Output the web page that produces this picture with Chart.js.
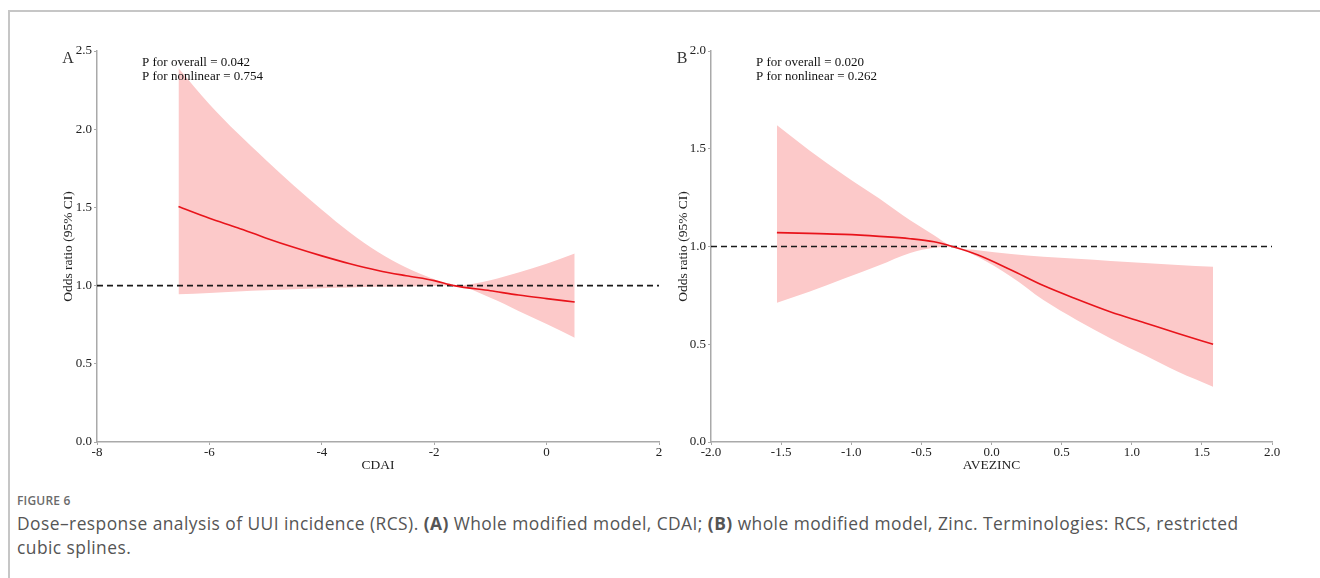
<!DOCTYPE html>
<html>
<head>
<meta charset="utf-8">
<script src="https://cdn.jsdelivr.net/npm/chart.js@4.4.1/dist/chart.umd.min.js"></script>
<style>
  html, body { margin: 0; padding: 0; background: #fff; }
  body { width: 1320px; height: 578px; position: relative; overflow: hidden; }
  .frame { position: absolute; left: 8px; top: 10px; right: -4px; bottom: -4px; border-top: 2px solid #c6c6c6; border-left: 2px solid #c6c6c6; }
  .wrap { position: absolute; top: 0; width: 680px; height: 480px; }
  #wa { left: 0; }
  #wb { left: 640px; }
  .cap1 { position: absolute; left: 17px; top: 492px; font-family: "Open Sans", "Noto Sans", sans-serif; font-size: 12px; font-weight: 600; color: #6b6b6b; letter-spacing: 0.2px; }
  .cap2 { position: absolute; left: 17px; top: 511px; width: 1295px; white-space: nowrap; font-family: "Open Sans", "Noto Sans", sans-serif; font-size: 17.4px; letter-spacing: 0.45px; line-height: 24px; color: #555; }
  .cap2 b { font-weight: 700; color: #555; }
</style>
</head>
<body>
<div class="frame"></div>
<div class="wrap" id="wa"><canvas id="ca" width="680" height="480"></canvas></div>
<div class="wrap" id="wb"><canvas id="cb" width="680" height="480"></canvas></div>
<div class="cap1">FIGURE 6</div>
<div class="cap2">Dose–response analysis of UUI incidence (RCS). <b>(A)</b> Whole modified model, CDAI; <b>(B)</b> whole modified model, Zinc. Terminologies: RCS, restricted<br>cubic splines.</div>
<script>
// ---- Panel A: CDAI ----
const cdaiX     = [-6.55, -6.0, -5.5, -5.0, -4.5, -4.0, -3.5, -3.0, -2.5, -2.0, -1.65, -1.0, -0.5, 0.0, 0.5];
const cdaiOR    = [1.505, 1.43, 1.37, 1.305, 1.245, 1.19, 1.14, 1.097, 1.063, 1.032, 1.0, 0.967, 0.94, 0.917, 0.895];
const cdaiUpper = [2.39, 2.16, 1.975, 1.805, 1.64, 1.485, 1.34, 1.215, 1.115, 1.04, 1.0, 1.035, 1.083, 1.14, 1.205];
const cdaiLower = [0.944, 0.953, 0.962, 0.97, 0.977, 0.983, 0.988, 0.992, 0.995, 0.998, 1.0, 0.922, 0.838, 0.755, 0.667];
const cdaiXTicks = [-8, -6, -4, -2, 0, 2];
const cdaiYTicks = [0.0, 0.5, 1.0, 1.5, 2.0, 2.5];

// ---- Panel B: AVEZINC ----
const zincX     = [-1.53, -1.3, -1.05, -0.8, -0.58, -0.41, -0.28, -0.1, 0.14, 0.37, 0.61, 0.85, 1.09, 1.33, 1.58];
const zincOR    = [1.071, 1.067, 1.062, 1.052, 1.04, 1.024, 1.0, 0.958, 0.88, 0.8, 0.73, 0.665, 0.61, 0.555, 0.5];
const zincUpper = [1.62, 1.492, 1.364, 1.245, 1.134, 1.058, 1.0, 0.981, 0.961, 0.948, 0.937, 0.926, 0.916, 0.906, 0.896];
const zincLower = [0.712, 0.768, 0.836, 0.904, 0.967, 0.993, 1.0, 0.947, 0.845, 0.726, 0.623, 0.53, 0.445, 0.359, 0.283];
const zincXTicks = [-2.0, -1.5, -1.0, -0.5, 0.0, 0.5, 1.0, 1.5, 2.0];
const zincYTicks = [0.0, 0.5, 1.0, 1.5, 2.0];

const refOR = 1.0;
const panelLetters = ['A', 'B'];
const pOverall = ['0.042', '0.020'];
const pNonlinear = ['0.754', '0.262'];
const xTitles = ['CDAI', 'AVEZINC'];
const yTitle = 'Odds ratio (95% CI)';

const SERIF = '"Liberation Serif", "Times New Roman", serif';
const BAND = '#fcc9c9';
const RED = '#e8141b';
const AXIS = '#a9a9a9';

function pts(xs, ys) { return xs.map((x, i) => ({ x: x, y: ys[i] })); }

function makeChart(id, cfg) {
  const annot = {
    id: 'annot',
    afterDraw(chart) {
      const ctx = chart.ctx, ca = chart.chartArea;
      ctx.save();
      ctx.fillStyle = '#111';
      ctx.font = '13px ' + SERIF;
      ctx.textBaseline = 'middle';
      ctx.textAlign = 'left';
      ctx.fillText('P for overall = ' + cfg.pO, ca.left + 45, ca.top + 12);
      ctx.fillText('P for nonlinear = ' + cfg.pN, ca.left + 45, ca.top + 25.5);
      ctx.font = '16px ' + SERIF;
      ctx.fillStyle = '#333';
      ctx.textAlign = 'center';
      ctx.fillText(cfg.letter, ca.left - 29, ca.top + 8);
      ctx.restore();
    }
  };
  return new Chart(document.getElementById(id), {
    type: 'line',
    data: {
      datasets: [
        { data: pts(cfg.xs, cfg.up), borderWidth: 0, pointRadius: 0, fill: '+1', backgroundColor: BAND, borderColor: BAND, cubicInterpolationMode: 'monotone', order: 3 },
        { data: pts(cfg.xs, cfg.lo), borderWidth: 0, pointRadius: 0, fill: false, borderColor: BAND, cubicInterpolationMode: 'monotone', order: 3 },
        { data: [{ x: cfg.xmin, y: refOR }, { x: cfg.xmax, y: refOR }], borderColor: '#1a1a1a', borderWidth: 1.7, borderDash: [6, 4], pointRadius: 0, fill: false, order: 2 },
        { data: pts(cfg.xs, cfg.or), borderColor: RED, borderWidth: 1.6, pointRadius: 0, fill: false, cubicInterpolationMode: 'monotone', order: 1 }
      ]
    },
    options: {
      responsive: false,
      animation: false,
      events: [],
      layout: { padding: { left: 0, right: cfg.padRight, top: 51, bottom: 0 } },
      plugins: { legend: { display: false }, tooltip: { enabled: false }, title: { display: false } },
      scales: {
        x: {
          type: 'linear', min: cfg.xmin, max: cfg.xmax,
          afterBuildTicks: s => { s.ticks = cfg.xt.map(v => ({ value: v })); },
          afterFit: s => { s.height = 38; },
          ticks: { color: '#222', font: { family: SERIF, size: 13 }, padding: 0, maxRotation: 0, autoSkip: false,
                   callback: v => cfg.xdec ? v.toFixed(1) : String(v) },
          grid: { drawOnChartArea: false, drawTicks: true, tickLength: 3, color: AXIS, lineWidth: 1 },
          border: { display: true, color: AXIS, width: 1.5 },
          title: { display: true, text: cfg.xTitle, color: '#222', font: { family: SERIF, size: 13.5 }, padding: { top: 0, bottom: 6 } }
        },
        y: {
          type: 'linear', min: 0, max: cfg.ymax,
          afterBuildTicks: s => { s.ticks = cfg.yt.map(v => ({ value: v })); },
          afterFit: s => { s.width = cfg.yWidth; },
          ticks: { color: '#222', font: { family: SERIF, size: 13 }, padding: 2, autoSkip: false,
                   callback: v => v.toFixed(1) },
          grid: { drawOnChartArea: false, drawTicks: true, tickLength: 3, color: AXIS, lineWidth: 1 },
          border: { display: true, color: AXIS, width: 1.5 },
          title: { display: true, text: yTitle, color: '#222', font: { family: SERIF, size: 13.5 }, padding: { top: cfg.yTitlePad, bottom: 0 } }
        }
      }
    },
    plugins: [annot]
  });
}

makeChart('ca', {
  xs: cdaiX, or: cdaiOR, up: cdaiUpper, lo: cdaiLower,
  xmin: -8, xmax: 2, ymax: 2.5, xt: cdaiXTicks, yt: cdaiYTicks, xdec: false,
  yWidth: 97, padRight: 21, yTitlePad: 60,
  xTitle: xTitles[0], letter: panelLetters[0], pO: pOverall[0], pN: pNonlinear[0]
});
makeChart('cb', {
  xs: zincX, or: zincOR, up: zincUpper, lo: zincLower,
  xmin: -2, xmax: 2, ymax: 2.0, xt: zincXTicks, yt: zincYTicks, xdec: true,
  yWidth: 71, padRight: 48, yTitlePad: 35,
  xTitle: xTitles[1], letter: panelLetters[1], pO: pOverall[1], pN: pNonlinear[1]
});
</script>
</body>
</html>
